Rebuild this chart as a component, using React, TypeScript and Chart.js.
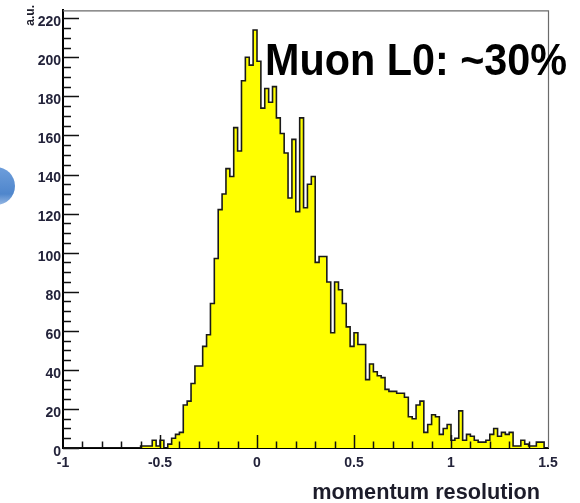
import { useEffect, useRef } from "react";
import { Chart, registerables } from "chart.js";

Chart.register(...registerables);

// ---- data ----
const BIN_LOW_EDGE = -1;
const BIN_WIDTH = 0.02;
const COUNTS = [
  0, 0, 0, 0, 0, 0, 0, 0, 0, 0,
  0, 0, 0, 0, 0, 0, 0, 0, 0, 0,
  1, 1, 1, 4, 1, 4, 0, 2, 5, 7,
  8, 22, 24, 33, 42, 42, 52, 58, 74, 97,
  122, 130, 143, 139, 164, 152, 188, 200, 196, 214,
  198, 174, 184, 177, 185, 169, 161, 151, 128, 158,
  121, 169, 123, 135, 139, 95, 98, 98, 85, 59,
  85, 81, 74, 62, 52, 59, 53, 53, 35, 43,
  39, 37, 36, 30, 29, 29, 28, 28, 26, 16,
  15, 22, 24, 8, 12, 17, 16, 7, 10, 12,
  4, 5, 19, 4, 7, 6, 4, 3, 3, 4,
  7, 10, 6, 8, 7, 8, 1, 1, 4, 2,
  1, 1, 3, 3, 0,
];
const X_MIN = -1;
const X_MAX = 1.5;
const Y_MIN = 0;
const Y_MAX = 224;
const X_TICKS = [-1, -0.5, 0, 0.5, 1, 1.5];
const Y_TICKS = [0, 20, 40, 60, 80, 100, 120, 140, 160, 180, 200, 220];
const X_MINOR_STEP = 0.1;
const Y_MINOR_STEP = 5;
const X_TITLE = "momentum resolution";
const Y_TITLE = "a.u.";
const NOTE = "Muon L0: ~30%";

const FONT = '"Liberation Sans", Arial, sans-serif';

const decorPlugin = {
  id: "decor",
  beforeDraw(chart: any) {
    const ctx = chart.ctx;
    ctx.save();
    ctx.fillStyle = "#ffffff";
    ctx.fillRect(0, 0, chart.width, chart.height);
    // partial blue slide ornament at the left edge
    const g = ctx.createLinearGradient(0, 166, 0, 206);
    g.addColorStop(0, "#6f9fdc");
    g.addColorStop(0.7, "#4f86cc");
    g.addColorStop(1, "#9dbde6");
    ctx.fillStyle = g;
    ctx.beginPath();
    ctx.arc(-4, 186, 19, 0, Math.PI * 2);
    ctx.fill();
    ctx.restore();
  },
  afterDraw(chart: any) {
    const { ctx, chartArea: a, scales } = chart;
    const xs = scales.x;
    const ys = scales.y;
    ctx.save();
    // frame top / right
    ctx.strokeStyle = "#6b6b6b";
    ctx.lineWidth = 1.2;
    ctx.beginPath();
    ctx.moveTo(a.left, a.top + 0.5);
    ctx.lineTo(a.right + 0.5, a.top + 0.5);
    ctx.lineTo(a.right + 0.5, a.bottom);
    ctx.stroke();

    // tick marks inside the frame
    ctx.strokeStyle = "#111";
    ctx.lineWidth = 1.5;
    ctx.beginPath();
    const nY = Math.round((Y_MAX - Y_MIN) / Y_MINOR_STEP);
    for (let k = 0; k <= nY; k++) {
      const v = Y_MIN + k * Y_MINOR_STEP;
      if (v > Y_MAX) break;
      const major = Y_TICKS.some((t) => Math.abs(t - v) < 1e-6);
      const py = Math.round(ys.getPixelForValue(v)) + 0.5;
      ctx.moveTo(a.left, py);
      ctx.lineTo(a.left + (major ? 16 : 8), py);
    }
    const nX = Math.round((X_MAX - X_MIN) / X_MINOR_STEP);
    for (let k = 1; k < nX; k++) {
      const v = X_MIN + k * X_MINOR_STEP;
      const major = X_TICKS.some((t) => Math.abs(t - v) < 1e-6);
      const px = Math.round(xs.getPixelForValue(v)) + 0.5;
      ctx.moveTo(px, a.bottom);
      ctx.lineTo(px, a.bottom - (major ? 13 : 6.5));
    }
    ctx.stroke();

    // axis titles
    ctx.fillStyle = "#1c1c2a";
    ctx.font = `bold 21.7px ${FONT}`;
    ctx.textAlign = "right";
    ctx.textBaseline = "middle";
    ctx.fillText(X_TITLE, a.right - 8, 493);

    ctx.save();
    ctx.translate(31, 5);
    ctx.rotate(-Math.PI / 2);
    ctx.font = `bold 12px ${FONT}`;
    ctx.textAlign = "right";
    ctx.textBaseline = "middle";
    ctx.fillText(Y_TITLE, 0, 0);
    ctx.restore();

    // annotation
    ctx.save();
    ctx.fillStyle = "#000";
    ctx.font = `bold 44px ${FONT}`;
    ctx.textAlign = "left";
    ctx.textBaseline = "alphabetic";
    const w = ctx.measureText(NOTE).width;
    ctx.translate(265, 75);
    ctx.scale(302 / w, 1);
    ctx.fillText(NOTE, 0, 0);
    ctx.restore();

    ctx.restore();
  },
};

export default function App() {
  const ref = useRef<HTMLCanvasElement | null>(null);

  useEffect(() => {
    if (!ref.current) return;
    const points = COUNTS.map((c, i) => ({ x: BIN_LOW_EDGE + i * BIN_WIDTH, y: c }));
    points.push({ x: X_MAX, y: 0 });

    const tickFont = { family: FONT, size: 14, weight: "bold" as const };

    const chart = new Chart(ref.current, {
      type: "line",
      data: {
        datasets: [
          {
            data: points,
            stepped: "before",
            borderColor: "#1a1a1a",
            borderWidth: 1.6,
            backgroundColor: "#ffff00",
            fill: "origin",
            pointRadius: 0,
            tension: 0,
          },
        ],
      },
      options: {
        responsive: false,
        animation: false,
        layout: { padding: { left: 0, top: 8, right: 32, bottom: 0 } },
        plugins: {
          legend: { display: false },
          tooltip: { enabled: false },
          title: { display: false },
        },
        scales: {
          x: {
            type: "linear",
            min: X_MIN,
            max: X_MAX,
            z: 1,
            grid: { display: false, drawTicks: false },
            border: { display: true, color: "#000", width: 2 },
            afterBuildTicks: (s: any) => {
              s.ticks = X_TICKS.map((v) => ({ value: v }));
            },
            afterFit: (s: any) => {
              s.height = 55;
            },
            ticks: {
              autoSkip: false,
              maxRotation: 0,
              padding: 7,
              color: "#23233a",
              font: tickFont,
              callback: (v: any) => String(v),
            },
          },
          y: {
            type: "linear",
            min: Y_MIN,
            max: Y_MAX,
            z: 1,
            grid: { display: false, drawTicks: false },
            border: { display: true, color: "#000", width: 2 },
            afterBuildTicks: (s: any) => {
              s.ticks = Y_TICKS.map((v) => ({ value: v }));
            },
            afterFit: (s: any) => {
              s.width = 63;
            },
            ticks: {
              autoSkip: false,
              padding: 2,
              labelOffset: 4,
              color: "#23233a",
              font: tickFont,
              callback: (v: any) => String(v),
            },
          },
        },
      },
      plugins: [decorPlugin],
    });
    return () => chart.destroy();
  }, []);

  return (
    <div style={{ position: "fixed", left: 0, top: 0, width: 580, height: 503, background: "#fff" }}>
      <canvas ref={ref} width={580} height={503} style={{ display: "block" }} />
    </div>
  );
}
